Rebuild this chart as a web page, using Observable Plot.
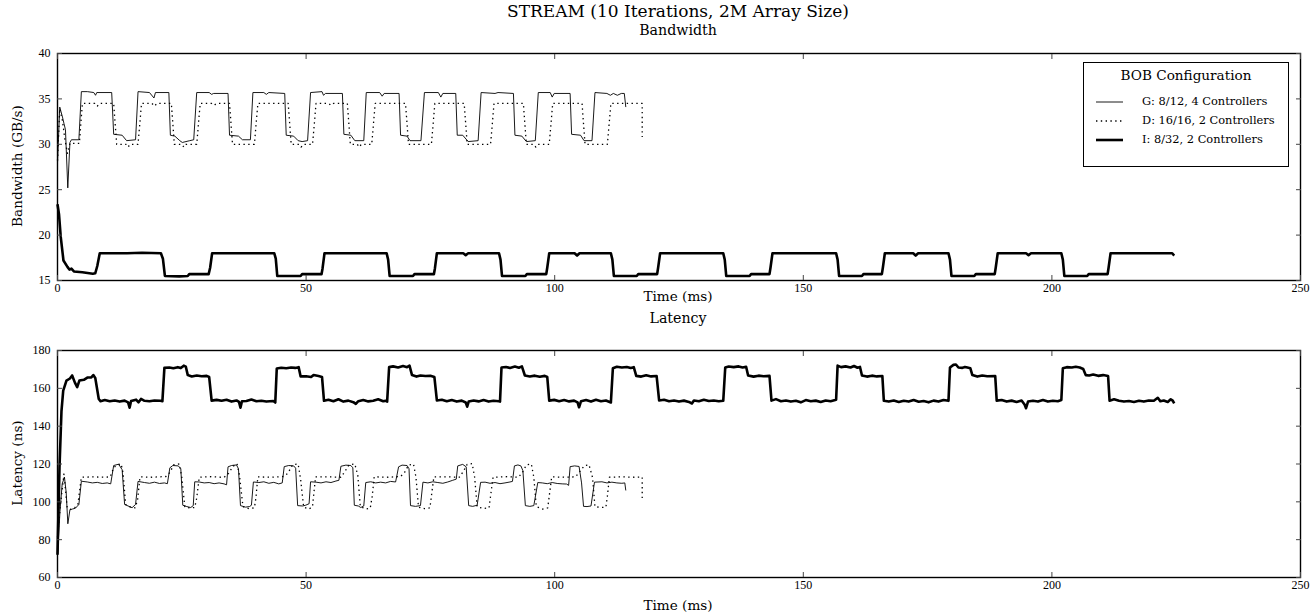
<!DOCTYPE html>
<html><head><meta charset="utf-8">
<script src="https://cdn.jsdelivr.net/npm/d3@7"></script>
<script src="https://cdn.jsdelivr.net/npm/@observablehq/plot@0.6"></script>
<style>
body{margin:0;background:#fff;}
#wrap{position:relative;width:1315px;height:614px;font-family:"DejaVu Serif",serif;color:#000;overflow:hidden;}
.lbl{position:absolute;transform:translate(-50%,-50%);white-space:nowrap;line-height:1;}
.vlbl{position:absolute;transform:translate(-50%,-50%) rotate(-90deg);white-space:nowrap;line-height:1;}
.svgbox{position:absolute;left:0;}
#legend{position:absolute;left:1083px;top:62px;width:206px;height:105px;border:1px solid #000;background:#fff;box-sizing:border-box;}
.lgitem{position:absolute;left:58px;transform:translateY(-50%);font-size:11.4px;white-space:nowrap;line-height:1;}
.lgline{position:absolute;left:11px;transform:translateY(-50%);}
</style></head><body><div id="wrap"></div>
<script>
// ---------- text ----------
const chartTitle = "STREAM (10 Iterations, 2M Array Size)";
const panelTitles = ["Bandwidth", "Latency"];
const yLabels = ["Bandwidth (GB/s)", "Latency (ns)"];
const xLabel = "Time (ms)";
const legendTitle = "BOB Configuration";
const seriesNames = ["G: 8/12, 4 Controllers", "D: 16/16, 2 Controllers", "I: 8/32, 2 Controllers"];

// ---------- ticks ----------
const xTicks = [0, 50, 100, 150, 200, 250];
const bwTicks = [15, 20, 25, 30, 35, 40];
const latTicks = [60, 80, 100, 120, 140, 160, 180];

// ---------- bandwidth (GB/s) : [time ms, value] ----------
const bwG = [
 [0,28.0],[0.45,34.1],[1.0,33.0],[1.3,32.3],[1.6,31.6],[2.07,25.2],[2.5,30.2],[2.8,30.5],[4.3,30.5],[4.8,35.8],[6.0,35.8],[7.3,35.7],[7.65,35.4],[7.9,35.7],[10.9,35.7],[11.3,31.1],[13.0,31.0],[13.9,30.4],[15.7,30.5],
 [16.2,35.8],[18.5,35.7],[19.4,35.1],[19.7,35.7],[22.4,35.7],[22.7,31.0],[23.6,30.9],[24.6,30.4],[25.1,30.2],[26.6,30.4],[27.4,30.5],
 [28.0,35.7],[30.5,35.7],[31.0,35.5],[31.4,35.6],[34.3,35.6],[34.6,31.0],[36.4,30.9],[37.2,30.5],[38.8,30.5],
 [39.3,35.7],[41.5,35.7],[42.0,35.5],[42.5,35.7],[45.7,35.6],[46.0,31.0],[47.5,30.9],[48.4,30.4],[49.2,30.3],[50.3,30.4],
 [50.9,35.7],[53.2,35.8],[53.5,35.4],[53.9,35.6],[57.3,35.6],[57.6,31.1],[59.0,31.0],[59.8,30.4],[61.6,30.4],
 [62.1,35.7],[64.8,35.7],[65.3,35.3],[65.7,35.6],[68.7,35.6],[69.0,31.0],[70.3,30.9],[70.9,30.4],[73.1,30.4],
 [73.8,35.7],[76.6,35.7],[77.1,35.2],[77.5,35.6],[80.1,35.6],[80.4,31.0],[81.5,31.0],[82.6,30.3],[84.6,30.4],
 [85.2,35.7],[88.0,35.6],[88.6,35.7],[91.7,35.6],[92.0,31.0],[93.4,30.9],[94.3,30.3],[96.1,30.4],
 [96.7,35.7],[99.1,35.7],[99.5,35.2],[99.9,35.6],[103.1,35.6],[103.4,31.1],[105.2,31.0],[105.9,30.4],[107.5,30.4],
 [108.1,35.7],[110.5,35.6],[111.2,35.4],[111.8,35.6],[112.6,35.4],[113.4,35.6],[114.0,35.6],[114.3,34.1]
];
const bwD = [
 [0,28.2],[0.45,33.9],[1.0,32.6],[1.5,30.5],[2.0,29.0],[2.5,30.1],[4.4,30.1],[5.0,34.5],[7.5,34.5],[8.0,34.2],[8.5,34.5],[11.3,34.5],[11.9,30.0],[13.8,30.0],[14.2,29.7],[14.6,30.0],[16.2,30.0],
 [16.9,34.5],[19.0,34.5],[19.5,34.2],[20.0,34.5],[22.9,34.5],[23.5,30.0],[25.0,30.0],[25.4,29.7],[25.8,30.0],[28.0,30.0],
 [28.7,34.5],[31.0,34.5],[31.5,34.3],[32.0,34.5],[34.6,34.5],[35.2,30.0],[39.6,30.0],
 [40.3,34.5],[46.4,34.5],[47.0,30.0],[48.6,30.0],[49.0,29.7],[49.5,30.0],[51.3,30.0],
 [52.0,34.5],[54.5,34.5],[55.0,34.3],[55.5,34.5],[58.3,34.5],[58.9,30.0],[60.3,30.0],[60.7,29.7],[61.1,30.0],[63.2,30.0],
 [63.9,34.5],[70.0,34.5],[70.6,30.0],[75.2,30.0],
 [75.9,34.5],[81.8,34.5],[82.4,30.0],[87.1,30.0],
 [87.8,34.5],[93.7,34.5],[94.3,30.0],[95.8,30.0],[96.2,29.7],[96.6,30.0],[98.9,30.0],
 [99.6,34.5],[105.5,34.5],[106.1,30.0],[110.6,30.0],
 [111.3,34.5],[117.6,34.5],[117.6,30.8]
];
const bwI = [
 [0,23.4],[0.3,22.3],[0.65,19.8],[1.2,17.2],[2.0,16.5],[2.4,16.2],[2.8,16.3],[3.3,16.0],[5.0,15.9],[7.1,15.75],[7.6,15.8],[8.0,16.6],[8.5,18.0],[14.0,18.0],[17.0,18.05],[20.8,18.0],
 [21.2,17.4],[21.6,15.5],[24.5,15.45],[26.2,15.5],[26.5,15.7],[30.4,15.7],[30.7,16.4],[31.1,18.0],[43.6,18.0],
 [43.9,17.4],[44.2,15.5],[48.9,15.5],[49.2,15.7],[53.1,15.7],[53.3,16.3],[53.7,18.0],[66.2,18.0],
 [66.5,17.3],[66.8,15.5],[71.5,15.5],[71.8,15.7],[75.7,15.7],[75.9,16.3],[76.3,18.0],[81.6,18.0],[82.1,17.8],[82.6,18.0],[88.8,18.0],
 [89.1,17.3],[89.4,15.5],[94.1,15.5],[94.4,15.7],[98.3,15.7],[98.5,16.4],[98.9,18.0],[104.0,18.0],[104.5,17.75],[105.0,18.0],[111.3,18.0],
 [111.6,17.3],[111.9,15.5],[116.5,15.5],[116.8,15.7],[120.6,15.7],[120.8,16.4],[121.2,18.0],[133.9,18.0],
 [134.2,17.3],[134.5,15.5],[139.2,15.5],[139.5,15.7],[143.2,15.7],[143.4,16.4],[143.8,18.0],[156.6,18.0],
 [156.9,17.3],[157.2,15.5],[161.8,15.5],[162.1,15.7],[165.8,15.7],[166.0,16.4],[166.4,18.0],[172.1,18.0],[172.6,17.75],[173.1,18.0],[179.2,18.0],
 [179.5,17.3],[179.8,15.5],[184.4,15.5],[184.7,15.7],[188.5,15.7],[188.7,16.4],[189.1,18.0],[194.8,18.0],[195.3,17.8],[195.8,18.0],[201.9,18.0],
 [202.2,17.3],[202.5,15.5],[207.1,15.5],[207.4,15.7],[211.2,15.7],[211.4,16.4],[211.8,18.0],[224.2,18.0],[224.6,17.75]
];

// ---------- latency (ns) : [time ms, value] ----------
const latG = [
 [0,71.6],[0.5,95],[0.94,109.5],[1.4,113.0],[1.75,105],[2.08,88.4],[2.5,95.8],[3.0,96.2],[3.6,96.6],[4.3,98.6],[4.8,110.9],[6.0,110.5],[7.0,110.0],[8.0,110.3],[9.0,109.7],[10.0,110.0],[10.7,109.5],[11.3,119.2],[12.3,119.9],[13.0,117.0],[13.5,98.6],[15.0,96.9],[15.7,98.6],[16.2,110.8],
 [17.5,110.2],[18.5,109.8],[19.5,110.4],[20.5,109.7],[21.5,110.0],[22.1,109.6],[22.6,118.0],[23.2,119.2],[24.3,119.0],[24.8,117.5],[25.2,98.2],[26.0,97.5],[26.8,97.0],[27.3,98.0],[27.6,110.6],
 [28.5,110.5],[29.5,110.0],[30.5,110.2],[31.5,109.6],[32.5,110.0],[33.5,109.5],[34.0,109.0],[34.3,118.5],[35.0,119.2],[36.0,119.5],[36.4,117.5],[36.8,98.0],[37.8,97.2],[38.6,97.5],[39.0,98.2],[39.4,110.5],
 [40.5,110.2],[41.5,110.6],[42.5,109.8],[43.5,110.3],[44.5,109.5],[45.2,110.0],[45.6,118.6],[46.5,119.2],[47.5,119.0],[47.9,117.8],[48.3,98.0],[49.3,97.8],[49.9,98.2],[50.6,99.0],[50.9,110.6],
 [52.0,110.4],[53.0,110.0],[54.0,110.6],[55.0,110.2],[56.0,111.0],[56.6,111.4],[57.0,118.8],[58.0,119.4],[59.0,119.2],[59.4,118.0],[59.7,98.2],[60.5,97.8],[61.0,97.0],[61.6,97.8],[62.0,110.2],
 [63.0,110.6],[64.0,110.0],[65.0,110.4],[66.0,110.0],[67.0,110.8],[68.0,110.5],[68.6,118.5],[69.3,119.4],[70.3,119.2],[70.7,117.5],[71.0,98.0],[72.0,97.6],[73.0,98.0],[73.5,110.4],
 [74.5,110.0],[75.5,110.6],[76.5,110.2],[77.5,109.8],[78.5,110.5],[79.5,111.4],[80.2,112.0],[80.5,119.0],[81.5,119.8],[82.2,118.5],[82.7,98.0],[83.5,97.6],[84.4,98.2],[85.1,110.3],
 [86.0,110.4],[87.0,109.8],[88.0,110.2],[89.0,109.6],[90.0,110.0],[91.0,110.5],[91.5,110.8],[91.9,119.0],[92.6,119.5],[93.2,119.0],[93.6,116.5],[94.1,98.0],[95.0,97.6],[95.8,98.0],[96.6,110.2],
 [97.5,110.0],[98.5,109.6],[99.5,110.2],[100.5,109.7],[101.5,109.5],[102.4,109.4],[102.8,108.7],[103.1,118.6],[104.0,119.0],[104.9,118.7],[105.4,110.0],[105.8,97.6],[106.5,97.5],[107.3,97.8],[108.0,110.4],
 [109.5,110.6],[110.5,110.0],[111.5,110.4],[112.5,110.0],[113.5,109.8],[114.1,110.0],[114.3,106.0]
];
const latD = [
 [0,81.3],[0.6,98.6],[1.3,114.8],[1.95,96.9],[2.6,96.0],[3.5,97.0],[4.1,98.6],[4.8,113.0],[7.0,113.2],[9.5,113.0],[10.6,113.2],[11.3,118.0],[12.0,119.6],[12.8,120.0],[13.2,115.0],[13.7,98.6],[14.7,97.2],[15.6,96.8],[16.1,101.0],[16.6,113.2],
 [19.0,113.0],[21.8,113.4],[22.6,115.5],[23.4,119.6],[24.5,120.0],[25.0,113.0],[25.6,97.4],[26.6,96.8],[27.6,97.0],[28.0,102.0],[28.5,113.0],
 [31.0,113.3],[33.5,112.9],[34.4,115.0],[35.3,118.8],[36.1,120.2],[36.6,114.0],[37.3,97.5],[38.5,96.4],[39.6,96.8],[39.9,102.0],[40.3,113.2],
 [43.0,113.0],[45.4,113.4],[46.3,115.0],[47.3,119.6],[48.4,120.0],[48.9,112.0],[49.5,97.2],[50.6,96.2],[51.3,97.5],[51.5,103.0],[51.9,113.2],
 [54.5,113.2],[57.0,113.0],[57.8,116.0],[58.6,119.5],[59.8,120.0],[60.4,114.0],[60.9,97.5],[62.0,96.2],[62.9,96.6],[63.3,103.0],[63.7,113.2],
 [66.5,113.0],[69.0,113.4],[69.8,115.5],[70.6,119.4],[71.6,120.0],[72.1,113.0],[72.6,97.2],[73.8,96.4],[74.9,96.8],[75.2,103.0],[75.7,113.2],
 [78.5,113.2],[80.8,113.0],[81.6,116.0],[82.4,119.8],[83.4,120.2],[83.9,113.0],[84.4,97.4],[85.6,96.5],[86.8,96.8],[87.1,103.0],[87.6,113.0],
 [90.5,113.3],[92.7,113.0],[93.5,115.5],[94.3,119.5],[95.3,120.0],[95.8,113.0],[96.3,97.5],[97.6,96.2],[98.6,96.8],[98.9,103.0],[99.4,113.2],
 [102.0,113.0],[104.2,113.2],[105.2,116.5],[106.0,119.2],[106.9,119.6],[107.6,113.0],[108.1,97.4],[109.4,97.0],[110.3,97.2],[110.6,103.0],[111.0,113.0],
 [113.5,113.2],[116.0,113.0],[117.6,113.1],[117.6,100.2]
];
const latI = [
 [0,72],[0.4,118],[0.8,148],[1.15,158.8],[1.8,164.1],[2.5,165.2],[2.95,166.8],[3.5,163.0],[3.96,160.6],[4.4,164.1],[5.3,164.5],[6.0,165.7],[6.8,165.8],[7.2,167.0],[7.6,165.5],[8.3,154.4],[8.65,153.2],
 [9.5,153.8],[10.5,153.2],[11.5,153.6],[12.5,153.0],[13.5,153.5],[14.2,152.6],[14.5,149.8],[14.8,153.3],[15.8,154.0],[16.3,152.6],[16.8,154.4],[17.5,153.4],[18.5,153.2],[19.5,153.6],[20.7,153.4],
 [21.1,153.2],[21.5,170.8],[22.5,171.0],[23.3,170.6],[24.2,171.2],[24.8,170.7],[25.4,172.0],[25.8,171.5],[26.2,167.0],[27.0,166.3],[28.0,166.8],[29.0,166.4],[30.0,166.6],[30.5,166.0],[31.0,153.5],
 [32.0,153.9],[33.0,153.4],[34.0,154.0],[35.0,153.0],[36.0,153.6],[36.5,152.8],[36.8,149.8],[37.1,153.2],[38.0,153.3],[39.0,154.1],[40.0,153.2],[41.0,153.4],[42.0,153.0],[43.4,153.3],
 [43.8,152.5],[44.1,170.5],[45.0,170.9],[46.0,170.6],[47.0,171.0],[47.8,170.8],[48.5,171.2],[48.9,166.3],[50.0,166.4],[51.0,166.0],[51.5,167.0],[52.5,166.5],[53.2,166.0],[53.6,153.4],
 [54.5,154.0],[55.5,153.2],[56.5,154.2],[57.5,153.0],[58.5,153.5],[59.5,152.7],[60.0,151.8],[60.5,153.2],[61.5,153.8],[62.5,153.1],[63.5,153.4],[64.5,154.2],[65.5,153.2],[66.2,153.5],
 [66.3,153.0],[66.7,171.2],[67.5,171.6],[68.5,171.0],[69.5,171.8],[70.3,171.2],[70.8,172.0],[71.3,167.0],[72.2,166.2],[73.0,166.8],[74.0,166.5],[75.0,166.6],[75.8,166.0],[76.3,153.6],
 [77.3,154.0],[78.3,153.2],[79.3,153.8],[80.3,153.0],[81.3,153.5],[82.1,152.5],[82.4,150.3],[82.7,153.0],[83.7,153.6],[84.7,153.1],[85.7,153.8],[86.7,153.0],[87.7,153.4],[88.8,153.2],
 [89.0,153.0],[89.3,171.0],[90.2,171.3],[91.0,170.8],[92.0,171.5],[92.8,170.9],[93.4,171.6],[94.0,166.8],[95.0,166.3],[96.0,166.7],[97.0,166.1],[98.0,166.6],[98.5,166.0],[98.9,153.5],
 [99.9,153.9],[100.9,153.2],[101.9,153.8],[102.9,153.1],[103.9,153.5],[104.6,152.6],[104.9,150.0],[105.3,153.2],[106.3,153.8],[107.3,153.0],[108.3,154.0],[109.3,153.2],[110.3,153.6],[111.3,152.5],
 [111.7,170.6],[112.5,171.4],[113.5,171.0],[114.5,171.3],[115.3,170.8],[115.9,171.2],[116.4,166.6],[117.4,166.2],[118.4,166.9],[119.4,166.3],[120.5,166.5],[121.0,153.6],
 [122.0,154.0],[123.0,153.2],[124.0,153.6],[125.0,153.0],[126.0,153.5],[127.0,152.8],[127.6,152.0],[128.0,153.6],[129.0,153.2],[130.0,154.0],[131.0,153.3],[132.0,153.6],[133.0,153.2],[133.9,153.4],
 [134.3,171.0],[135.0,171.5],[136.0,171.2],[137.0,171.6],[137.8,171.0],[138.5,171.4],[138.9,166.8],[140.0,166.2],[141.0,166.7],[142.0,166.4],[143.2,166.6],[143.6,153.5],
 [144.5,154.3],[145.5,153.2],[146.5,153.6],[147.5,153.0],[148.5,153.4],[149.5,152.6],[150.5,153.8],[151.5,153.2],[152.5,153.5],[153.5,152.8],[154.5,153.6],[155.5,153.2],[156.6,154.0],
 [156.9,172.0],[157.6,171.2],[158.5,171.6],[159.5,171.0],[160.2,171.8],[160.9,170.9],[161.4,171.3],[161.8,166.8],[162.8,166.2],[163.8,166.7],[164.8,166.3],[165.9,166.5],[166.2,153.4],
 [167.2,153.0],[168.2,153.6],[169.2,152.8],[170.2,153.4],[171.2,153.0],[172.2,153.8],[173.2,152.9],[174.2,153.3],[175.2,152.6],[176.2,153.5],[177.2,153.0],[178.2,153.8],[179.2,153.4],
 [179.5,171.0],[180.2,172.4],[180.7,172.6],[181.2,171.0],[182.0,170.8],[182.5,171.3],[183.0,171.0],[183.6,170.6],[184.0,167.0],[185.0,166.2],[186.0,166.8],[187.0,166.4],[188.6,166.5],[188.9,153.5],
 [189.9,153.8],[190.9,153.0],[191.9,153.5],[192.9,152.8],[193.9,153.6],[194.5,151.5],[194.8,149.5],[195.2,153.0],[196.2,153.4],[197.2,153.0],[198.2,153.8],[199.2,153.0],[200.2,153.4],[201.2,153.2],[201.9,153.8],
 [202.2,170.6],[203.0,171.2],[204.0,171.0],[204.8,171.4],[205.6,171.0],[206.3,170.2],[206.8,167.0],[207.5,166.8],[208.3,167.3],[209.3,166.6],[210.3,167.0],[211.3,166.5],[211.6,153.5],
 [212.5,154.2],[213.5,153.4],[214.5,153.0],[215.5,153.3],[216.5,152.8],[217.5,153.4],[218.5,153.0],[219.5,153.6],[220.5,153.4],[221.3,155.0],[221.8,153.2],[222.5,153.6],[223.3,152.8],[223.9,154.2],[224.3,153.5],[224.6,152.0]
];

// ---------- styles per series ----------
const seriesStyle = [
  {w: 0.9, dash: null},
  {w: 1.3, dash: "1.4,3.4"},
  {w: 2.6, dash: null}
];

const wrap = document.getElementById("wrap");
function addText(cls, txt, x, y, size) {
  const d = document.createElement("div");
  d.className = cls; d.textContent = txt;
  d.style.left = x + "px"; d.style.top = y + "px"; d.style.fontSize = size + "px";
  wrap.appendChild(d);
}

function panel(seriesData, yDomain, yTicks, height, marginTop, marginBottom) {
  const marks = [];
  seriesData.forEach((data, i) => {
    marks.push(Plot.line(data.map(([t, v]) => ({t, v})), {
      x: "t", y: "v", stroke: "#000", strokeWidth: seriesStyle[i].w,
      strokeDasharray: seriesStyle[i].dash, strokeLinejoin: "round", strokeLinecap: "butt"
    }));
  });
  marks.push(Plot.frame({stroke: "#000", strokeWidth: 1.4}));
  marks.push(Plot.axisX({ticks: xTicks, anchor: "bottom", tickSize: -5, tickPadding: 8, tickFormat: d => String(d), label: null, stroke: "#444"}));
  marks.push(Plot.axisX({ticks: xTicks, anchor: "top", tickSize: -5, tickPadding: 8, tickFormat: () => "", label: null, stroke: "#444"}));
  marks.push(Plot.axisY({ticks: yTicks, anchor: "left", tickSize: -5, tickPadding: 12, tickFormat: d => String(d), label: null, stroke: "#444"}));
  marks.push(Plot.axisY({ticks: yTicks, anchor: "right", tickSize: -5, tickPadding: 12, tickFormat: () => "", label: null, stroke: "#444"}));
  return Plot.plot({
    width: 1315, height, marginTop, marginBottom, marginLeft: 57, marginRight: 15,
    x: {domain: [0, 250], axis: null},
    y: {domain: yDomain, axis: null},
    style: {fontFamily: "'Liberation Serif', serif", fontSize: "12px", color: "#000", background: "transparent", overflow: "visible"},
    marks
  });
}

const topPanel = panel([bwG, bwD, bwI], [15, 40], bwTicks, 270, 13, 30);
topPanel.classList.add("svgbox"); topPanel.style.top = "40px"; topPanel.style.position = "absolute";
wrap.appendChild(topPanel);
const botPanel = panel([latG, latD, latI], [60, 180], latTicks, 284, 20, 37);
botPanel.classList.add("svgbox"); botPanel.style.top = "330px"; botPanel.style.position = "absolute";
wrap.appendChild(botPanel);

addText("lbl", chartTitle, 678, 11, 17);
addText("lbl", panelTitles[0], 678, 30, 14.2);
addText("lbl", panelTitles[1], 678, 318, 14.2);
addText("lbl", xLabel, 678, 297, 13.6);
addText("lbl", xLabel, 678, 606, 13.6);
addText("vlbl", yLabels[0], 18, 166, 13.6);
addText("vlbl", yLabels[1], 18, 463, 13.6);

// legend
const lg = document.createElement("div"); lg.id = "legend"; wrap.appendChild(lg);
const lt = document.createElement("div");
lt.textContent = legendTitle;
Object.assign(lt.style, {position: "absolute", left: "50%", top: "13px", transform: "translate(-50%,-50%)", fontSize: "13.6px", whiteSpace: "nowrap", lineHeight: "1"});
lg.appendChild(lt);
const rowY = [39, 58, 77];
seriesNames.forEach((name, i) => {
  const t = document.createElement("div"); t.className = "lgitem"; t.textContent = name; t.style.top = rowY[i] + "px"; lg.appendChild(t);
  const s = document.createElementNS("http://www.w3.org/2000/svg", "svg");
  s.setAttribute("width", 30); s.setAttribute("height", 8); s.setAttribute("class", "lgline");
  s.style.top = rowY[i] + "px";
  const l = document.createElementNS("http://www.w3.org/2000/svg", "line");
  l.setAttribute("x1", 1); l.setAttribute("x2", 28); l.setAttribute("y1", 4); l.setAttribute("y2", 4);
  l.setAttribute("stroke", "#000"); l.setAttribute("stroke-width", seriesStyle[i].w);
  if (seriesStyle[i].dash) l.setAttribute("stroke-dasharray", seriesStyle[i].dash);
  s.appendChild(l); lg.appendChild(s);
});
</script></body></html>
